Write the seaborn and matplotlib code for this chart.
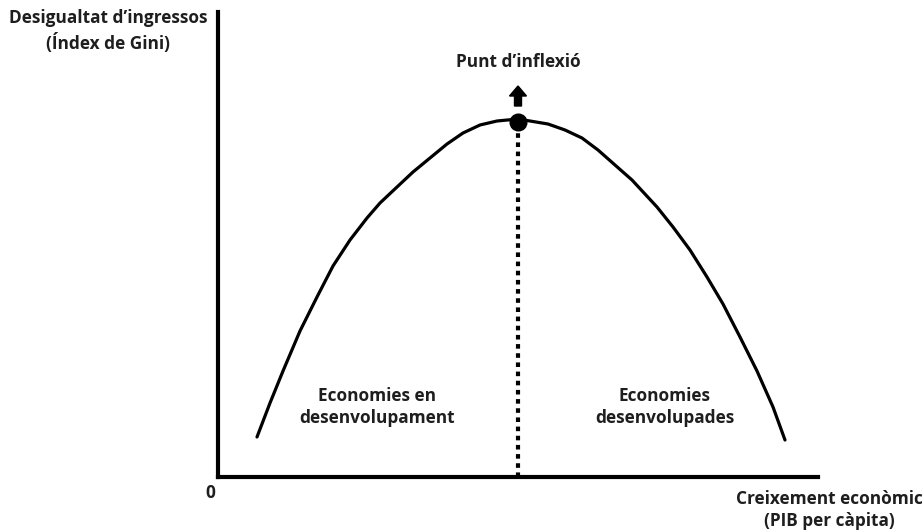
import numpy as np
import pandas as pd
import seaborn as sns
import matplotlib.pyplot as plt

# curve (x: growth, y: inequality), arbitrary units
growth = [39, 52, 65, 82, 99, 115, 132, 149, 162, 179, 195, 212, 229, 245, 262, 279, 300,
          330, 347, 364, 380, 397, 414, 439, 455, 472, 489, 505, 522, 539, 555, 567]
gini = [40, 74, 106, 146, 180, 211, 237, 259, 274, 290, 305, 319, 333, 344, 352, 356, 358,
        353, 347, 339, 327, 312, 297, 270, 250, 227, 200, 173, 140, 106, 70, 37]
peak_x = 300
peak_y = 358

sns.set_theme(style="white")
plt.rcParams['font.family'] = ['Open Sans', 'DejaVu Sans']
plt.rcParams['font.weight'] = 'bold'

fig = plt.figure(figsize=(9.23, 5.3), dpi=100)
ax = fig.add_axes([218/923, 53/530, 600/923, 465/530])

df = pd.DataFrame({"x": growth, "y": gini})
sns.lineplot(data=df, x="x", y="y", ax=ax, color="black", lw=2.3, sort=False)

# dotted line from the turning point down to the axis
ax.plot([peak_x, peak_x], [0, peak_y], color="black", lw=3, dashes=(1.1, 1.1))
ax.plot(peak_x, peak_y - 3, "o", color="black", ms=12)
ax.arrow(peak_x, 371, 0, 20, width=7, head_width=17, head_length=10,
         length_includes_head=True, color="black")

ax.set_xlim(0, 600)
ax.set_ylim(0, 465)
ax.set_xticks([])
ax.set_yticks([])
ax.set_xlabel("")
ax.set_ylabel("")
for s in ["top", "right"]:
    ax.spines[s].set_visible(False)
for s in ["left", "bottom"]:
    ax.spines[s].set_color("black")
    ax.spines[s].set_linewidth(3)

fs = 12.4
ls = 1.35
tc = "#1e1e1e"
ax.text(peak_x, 415, "Punt d’inflexió", ha="center", va="center", fontsize=fs, fontweight="bold", color=tc)
ax.text(-110, 446, "Desigualtat d’ingressos\n(Índex de Gini)", ha="center", va="center",
        fontsize=fs, fontweight="bold", linespacing=ls, color=tc, clip_on=False)
ax.text(-8, -16, "0", ha="center", va="center", fontsize=fs, fontweight="bold", color=tc, clip_on=False)
ax.text(611, -33, "Creixement econòmic\n(PIB per càpita)", ha="center", va="center",
        fontsize=fs, fontweight="bold", linespacing=ls, color=tc, clip_on=False)
ax.text(159, 70, "Economies en\ndesenvolupament", ha="center", va="center",
        fontsize=fs, fontweight="bold", linespacing=ls, color=tc)
ax.text(447, 70, "Economies\ndesenvolupades", ha="center", va="center",
        fontsize=fs, fontweight="bold", linespacing=ls, color=tc)

fig.savefig("out.png", dpi=100)
